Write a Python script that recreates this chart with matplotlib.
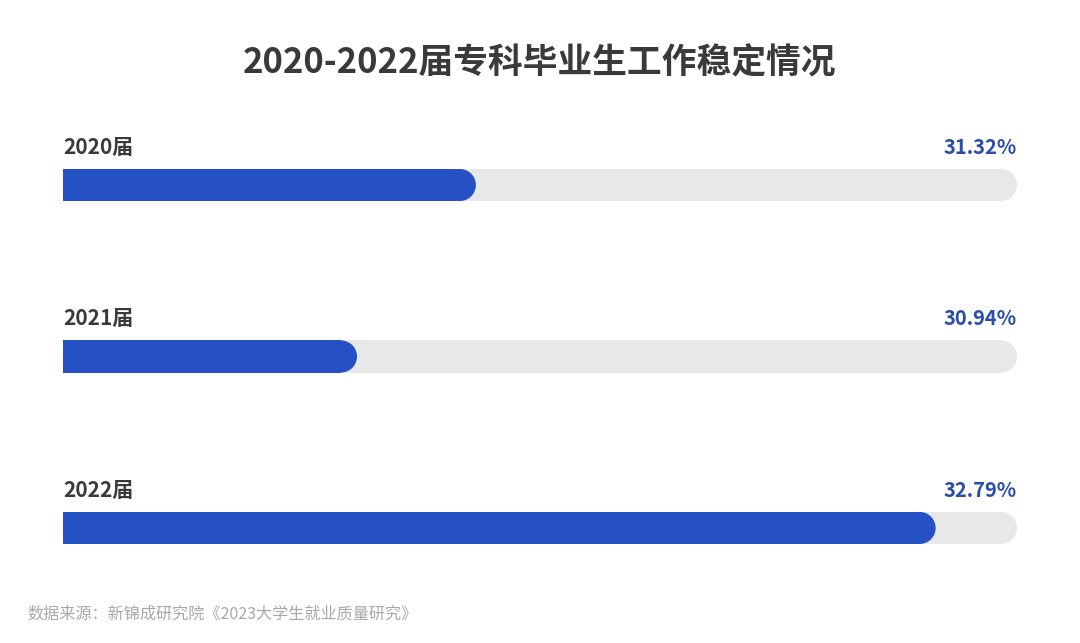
import matplotlib.pyplot as plt
from matplotlib.patches import Ellipse, Rectangle

plt.rcParams['font.family'] = ['Noto Sans CJK SC', 'DejaVu Sans']

# 数据
years = ['2020届', '2021届', '2022届']
values = [31.32, 30.94, 32.79]
value_labels = ['31.32%', '30.94%', '32.79%']
title = '2020-2022届专科毕业生工作稳定情况'
source = '数据来源：新锦成研究院《2023大学生就业质量研究》'

W, H = 1080, 643
fig = plt.figure(figsize=(W / 100, H / 100), dpi=100)
fig.patch.set_facecolor('white')

x0, x1 = 30.0, 33.05          # 轴的数值范围
left_px, right_px = 63, 1017
ax = fig.add_axes([left_px / W, 0, (right_px - left_px) / W, 1])
ax.set_xlim(x0, x1)
ax.set_ylim(2.671, -1.079)
ax.axis('off')

bar_h = 0.187                 # 条形高度（数据单位）
px_per_unit_x = (right_px - left_px) / (x1 - x0)
r = 16 / px_per_unit_x        # 圆角半径（数据单位）

blue = '#2651c4'
track = '#e8e8e8'

def rounded_bar(y, start, end, color, z):
    # 左边直角，右边圆头
    ax.add_patch(Rectangle((start, y - bar_h / 2), end - r - start, bar_h,
                           facecolor=color, edgecolor='none', zorder=z))
    ax.add_patch(Ellipse((end - r, y), 2 * r, bar_h,
                         facecolor=color, edgecolor='none', zorder=z))

for i, (yr, v, lab) in enumerate(zip(years, values, value_labels)):
    rounded_bar(i, x0, x1, track, 1)
    rounded_bar(i, x0, v, blue, 2)
    ax.text(x0, i - 0.22, yr, ha='left', va='center', fontsize=15,
            fontweight='bold', color='#3a3a3a')
    ax.text(x1, i - 0.22, lab, ha='right', va='center', fontsize=14.5,
            fontweight='bold', color='#2a4ea8')

fig.text(0.5, 1 - 63 / H, title, ha='center', va='center', fontsize=25,
         fontweight='heavy', color='#3a3a3a')
fig.text(27 / W, 1 - 614 / H, source, ha='left', va='center', fontsize=11.6,
         color='#a8a8a8', fontweight='light')

fig.savefig('out.png', dpi=100)
